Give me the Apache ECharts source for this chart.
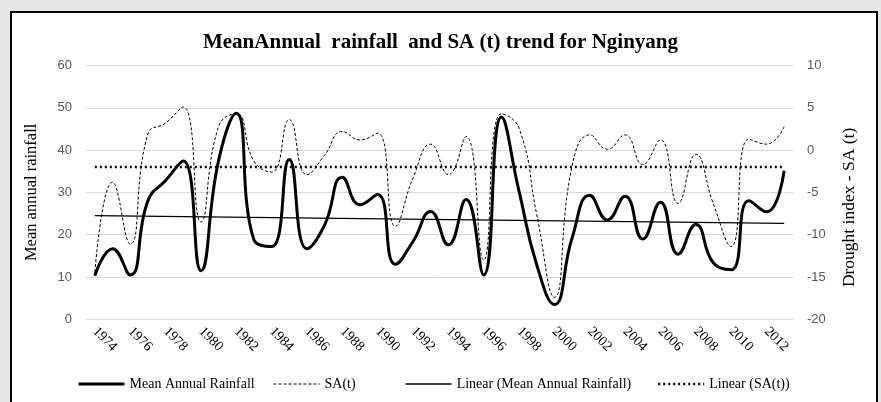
<!DOCTYPE html>
<html>
<head>
<meta charset="utf-8">
<script src="https://cdn.jsdelivr.net/npm/echarts@6/dist/echarts.min.js"></script>
<style>
  * { margin: 0; padding: 0; }
  body { background: #e6e6e6; width: 881px; height: 402px; overflow: hidden; position: relative; }
  #frame { position: absolute; left: 10px; top: 11px; width: 864px; height: 420px; background: #fff; border: 2px solid #000; }
  #main { position: absolute; left: 0; top: 0; width: 881px; height: 402px; }
</style>
</head>
<body>
<div id="frame"></div>
<div id="main"></div>
<script>
  // years on the category axis
  var years = ['1974','1975','1976','1977','1978','1979','1980','1981','1982','1983',
               '1984','1985','1986','1987','1988','1989','1990','1991','1992','1993',
               '1994','1995','1996','1997','1998','1999','2000','2001','2002','2003',
               '2004','2005','2006','2007','2008','2009','2010','2011','2012','2013'];
  // mean annual rainfall (left axis)
  var rainfall = [10.3, 16.7, 10.5, 28.0, 32.8, 37.4, 11.5, 37.5, 48.7, 18.8,
                  17.2, 37.8, 16.7, 22.3, 33.6, 27.1, 29.5, 13.0, 18.4, 25.5,
                  17.6, 28.3, 10.5, 47.8, 30.3, 12.9, 3.5, 19.2, 29.3, 23.5,
                  29.1, 19.0, 27.7, 15.4, 22.4, 13.3, 11.7, 28.0, 25.4, 35.1];
  // drought index SA(t) (right axis)
  var sa = [-14.4, -3.8, -11.1, 1.9, 3.2, 5.1, -8.5, 2.8, 4.3, -1.3,
            -2.6, 3.6, -2.9, -0.6, 2.2, 1.2, 2.0, -9.0, -3.3, 0.7,
            -2.9, 1.6, -13.0, 4.3, 2.6, -7.6, -17.4, -1.9, 1.8, 0.1,
            1.8, -1.7, 1.2, -6.3, -0.5, -6.4, -11.4, 1.3, 0.7, 2.8];
  // trend line end values (first year, last year)
  var trendRain = [24.5, 22.7];
  var trendSA = [-2.0, -2.0];

  var seriesNames = ['Mean Annual Rainfall', 'SA(t)', 'Linear (Mean Annual Rainfall)', 'Linear (SA(t))'];
  var legendLeft = [72, 268, 400, 652];

  var first = years[0], last = years[years.length - 1];
  var serif = '"Liberation Serif", "Times New Roman", serif';
  var sans = '"Liberation Sans", Arial, sans-serif';

  var lineStyles = [
    { color: '#000', width: 3 },
    { color: '#000', width: 1, type: [3, 2] },
    { color: '#000', width: 1.3 },
    { color: '#000', width: 2.4, type: [2, 3] }
  ];

  // one legend per entry so the spacing follows the original
  var legends = seriesNames.map(function (n, i) {
    return {
      left: legendLeft[i],
      top: 372,
      itemWidth: 46,
      itemHeight: 12,
      itemStyle: { opacity: 0 },
      lineStyle: lineStyles[i],
      textStyle: { fontFamily: serif, fontSize: 14, color: '#000' },
      data: [n]
    };
  });

  var mycharts = echarts.init(document.getElementById('main'));
  var option = {
    animation: false,
    title: {
      text: 'MeanAnnual  rainfall  and SA (t) trend for Nginyang',
      left: 'center',
      top: 27,
      textStyle: { fontFamily: serif, fontSize: 21, fontWeight: 'bold', color: '#000' }
    },
    legend: legends,
    grid: { left: 86, right: 88, top: 65.5, bottom: 82.7, containLabel: false },
    xAxis: {
      type: 'category',
      data: years,
      axisLine: { show: false },
      axisTick: { show: false },
      axisLabel: { interval: 1, rotate: -45, fontFamily: serif, fontSize: 14, color: '#000', margin: 10 }
    },
    yAxis: [{
      type: 'value',
      min: 0, max: 60, interval: 10,
      name: 'Mean annual rainfall',
      nameLocation: 'middle',
      nameRotate: 90,
      nameGap: 46,
      nameTextStyle: { fontFamily: serif, fontSize: 16.5, color: '#000' },
      axisLine: { show: false },
      axisTick: { show: false },
      axisLabel: { fontFamily: sans, fontSize: 13, color: '#595959', margin: 14 },
      splitLine: { lineStyle: { color: '#d9d9d9', width: 1 } }
    }, {
      type: 'value',
      min: -20, max: 10, interval: 5,
      name: 'Drought index - SA (t)',
      nameLocation: 'middle',
      nameRotate: 90,
      nameGap: 47,
      nameTextStyle: { fontFamily: serif, fontSize: 17.5, color: '#000', padding: [0, 30, 0, 0] },
      axisLine: { show: false },
      axisTick: { show: false },
      axisLabel: { fontFamily: sans, fontSize: 13, color: '#595959', margin: 14 },
      splitLine: { show: false }
    }],
    series: [{
      name: seriesNames[0],
      type: 'line',
      data: rainfall,
      smooth: 0.5,
      symbol: 'none',
      lineStyle: lineStyles[0],
      itemStyle: { color: '#000' },
      z: 4
    }, {
      name: seriesNames[1],
      type: 'line',
      yAxisIndex: 1,
      data: sa,
      smooth: 0.5,
      symbol: 'none',
      lineStyle: lineStyles[1],
      itemStyle: { color: '#000' },
      z: 3
    }, {
      name: seriesNames[2],
      type: 'line',
      data: [[first, trendRain[0]], [last, trendRain[1]]],
      symbol: 'none',
      lineStyle: lineStyles[2],
      itemStyle: { color: '#000' },
      z: 2
    }, {
      name: seriesNames[3],
      type: 'line',
      yAxisIndex: 1,
      data: [[first, trendSA[0]], [last, trendSA[1]]],
      symbol: 'none',
      lineStyle: lineStyles[3],
      itemStyle: { color: '#000' },
      z: 2
    }]
  };
  mycharts.setOption(option);
</script>
</body>
</html>
